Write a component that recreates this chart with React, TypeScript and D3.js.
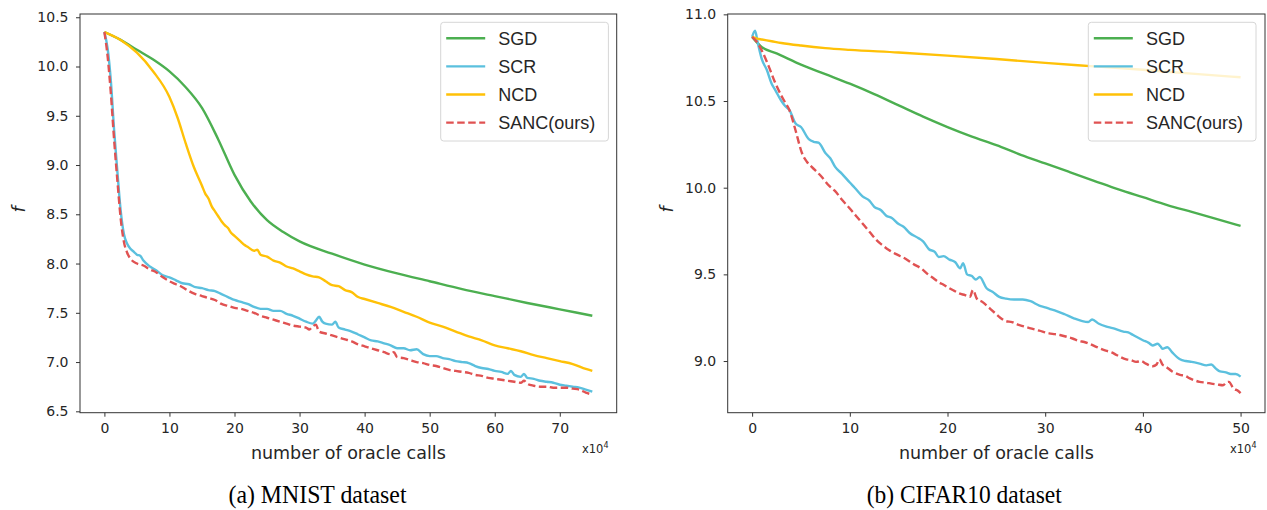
import React, { useEffect, useRef } from "react";
import * as d3 from "d3";

const NAMES = ["SGD", "SCR", "NCD", "SANC(ours)"];
const COLORS = ["#4caf50", "#5bc0de", "#ffc107", "#e05252"];

// MNIST, x in units of 1e4 oracle calls
const MNIST_SGD = [
  [0, 10.35], [2.5, 10.27], [5, 10.17], [7.5, 10.07], [10, 9.95], [12.5, 9.79], [15, 9.58],
  [17.5, 9.26], [20, 8.9], [22.5, 8.63], [25, 8.44], [27.5, 8.32], [30, 8.225], [35, 8.1],
  [40, 7.99], [45, 7.9], [50, 7.82], [55, 7.74], [60, 7.67], [65, 7.6], [70, 7.535], [75, 7.47],
];
const MNIST_SCR = [
  [0, 10.35], [0.5, 10.18], [1, 9.85], [1.5, 9.35], [2, 8.93], [2.5, 8.54], [3, 8.3], [3.5, 8.2],
  [4, 8.15], [4.5, 8.12], [5, 8.09], [5.5, 8.08], [6, 8.03], [7, 7.97], [8, 7.93], [9, 7.88],
  [10, 7.86], [11, 7.83], [12, 7.8], [13, 7.79], [14, 7.76], [15, 7.75], [16, 7.73], [17, 7.72],
  [18, 7.69], [19, 7.66], [20, 7.63], [21, 7.61], [22, 7.59], [23, 7.56], [24, 7.54], [25, 7.54],
  [26, 7.52], [27, 7.52], [28, 7.49], [29, 7.47], [30, 7.44], [31, 7.41], [32, 7.39], [32.5, 7.42],
  [33, 7.46], [33.5, 7.41], [34, 7.39], [35, 7.38], [35.5, 7.41], [36, 7.35], [37, 7.33], [38, 7.31],
  [39, 7.28], [40, 7.25], [41, 7.22], [42, 7.21], [43, 7.19], [44, 7.17], [45, 7.14], [46, 7.14],
  [47, 7.12], [48, 7.13], [49, 7.08], [50, 7.06], [51, 7.06], [52, 7.04], [53, 7.03], [54, 7.01],
  [55, 7.0], [56, 6.99], [57, 6.96], [58, 6.94], [59, 6.93], [60, 6.91], [61, 6.9], [62, 6.88],
  [62.5, 6.91], [63, 6.87], [64, 6.85], [64.5, 6.88], [65, 6.84], [66, 6.83], [67, 6.81], [68, 6.8],
  [69, 6.79], [70, 6.77], [71, 6.76], [72, 6.75], [73, 6.74], [74, 6.72], [75, 6.7],
];
const MNIST_NCD = [
  [0, 10.35], [2.5, 10.27], [5, 10.14], [7.5, 9.95], [10, 9.69], [11.25, 9.48], [12.5, 9.22],
  [13.75, 8.98], [15, 8.79], [15.5, 8.71], [16, 8.66], [16.5, 8.58], [17, 8.53], [17.5, 8.48],
  [18, 8.43], [18.5, 8.39], [19, 8.36], [19.5, 8.31], [20, 8.28], [21, 8.22], [21.5, 8.19],
  [22, 8.17], [23, 8.13], [23.5, 8.14], [24, 8.09], [25, 8.07], [26, 8.03], [27, 8.01], [28, 7.97],
  [29, 7.95], [30, 7.92], [31, 7.89], [32, 7.87], [33, 7.86], [34, 7.82], [35, 7.78], [36, 7.77],
  [37, 7.73], [38, 7.71], [39, 7.66], [40, 7.64], [42, 7.6], [44, 7.56], [46, 7.51], [48, 7.46],
  [50, 7.4], [52, 7.36], [54, 7.31], [56, 7.26], [58, 7.22], [60, 7.17], [62, 7.14], [64, 7.11],
  [66, 7.07], [68, 7.04], [70, 7.01], [72, 6.98], [74, 6.93], [75, 6.91],
];
const MNIST_SANC = [
  [0, 10.35], [0.5, 10.1], [1, 9.72], [1.5, 9.25], [2, 8.84], [2.5, 8.46], [3, 8.22], [3.5, 8.11],
  [4, 8.05], [5, 8.0], [6, 7.98], [7, 7.94], [8, 7.91], [9, 7.86], [10, 7.82], [11, 7.79],
  [12, 7.76], [13, 7.72], [14, 7.69], [15, 7.67], [16, 7.65], [17, 7.63], [18, 7.59], [19, 7.57],
  [20, 7.55], [21, 7.54], [22, 7.52], [23, 7.5], [24, 7.47], [25, 7.45], [26, 7.43], [27, 7.41],
  [28, 7.39], [29, 7.37], [30, 7.36], [31, 7.35], [31.5, 7.33], [32, 7.36], [32.5, 7.38],
  [33, 7.31], [34, 7.29], [35, 7.27], [36, 7.25], [37, 7.23], [38, 7.21], [39, 7.18], [40, 7.16],
  [41, 7.14], [42, 7.12], [43, 7.1], [44, 7.08], [44.5, 7.1], [45, 7.05], [46, 7.04], [47, 7.02],
  [48, 7.0], [49, 6.99], [50, 6.97], [51, 6.96], [52, 6.94], [53, 6.92], [54, 6.91], [55, 6.9],
  [56, 6.89], [57, 6.87], [58, 6.86], [59, 6.84], [60, 6.83], [61, 6.82], [62, 6.81], [63, 6.8],
  [64, 6.79], [64.5, 6.81], [65, 6.78], [66, 6.76], [67, 6.75], [68, 6.75], [69, 6.74], [70, 6.74],
  [71, 6.74], [72, 6.73], [73, 6.72], [74, 6.69], [75, 6.67],
];

// CIFAR10
const CIFAR_SGD = [
  [0, 10.87], [1, 10.81], [2.5, 10.775], [5, 10.71], [7.5, 10.655], [10, 10.6], [12.5, 10.54],
  [15, 10.475], [17.5, 10.41], [20, 10.35], [22.5, 10.295], [25, 10.245], [27.5, 10.19],
  [30, 10.14], [32.5, 10.09], [35, 10.04], [37.5, 9.99], [40, 9.945], [42.5, 9.9], [45, 9.86],
  [47.5, 9.82], [50, 9.78],
];
const CIFAR_SCR = [
  [0, 10.87], [0.3, 10.905], [0.6, 10.83], [1, 10.74], [1.5, 10.68], [2, 10.6], [2.4, 10.56],
  [3, 10.5], [3.4, 10.47], [3.8, 10.45], [4.45, 10.37], [5, 10.35], [5.8, 10.28], [6.3, 10.265],
  [6.8, 10.26], [7.5, 10.2], [8, 10.17], [8.5, 10.12], [9.2, 10.08], [10, 10.03], [10.5, 10.0],
  [11.3, 9.95], [12, 9.925], [12.5, 9.89], [13.2, 9.87], [13.7, 9.84], [14.3, 9.825], [15, 9.79],
  [15.5, 9.775], [16.1, 9.74], [17, 9.71], [17.5, 9.69], [18.1, 9.645], [18.7, 9.63], [19.1, 9.6],
  [19.6, 9.605], [20.2, 9.585], [20.8, 9.57], [21.3, 9.535], [21.6, 9.565], [22, 9.5], [22.5, 9.49],
  [22.9, 9.47], [23.3, 9.485], [24, 9.42], [24.6, 9.4], [25.3, 9.37], [26, 9.36], [26.8, 9.355],
  [27.7, 9.355], [28.5, 9.345], [29.4, 9.32], [30, 9.31], [30.5, 9.3], [31.1, 9.29], [32, 9.27],
  [33, 9.245], [33.8, 9.23], [34.4, 9.225], [34.8, 9.24], [35.5, 9.215], [36.2, 9.2], [36.9, 9.19],
  [38, 9.17], [38.5, 9.165], [39, 9.15], [40, 9.12], [40.6, 9.105], [41, 9.09], [41.5, 9.1],
  [41.8, 9.085], [42, 9.07], [42.5, 9.08], [43, 9.05], [43.8, 9.01], [44.4, 9.0], [45, 8.995],
  [45.8, 8.985], [46.5, 8.975], [47, 8.98], [47.5, 8.955], [47.9, 8.94], [48.5, 8.935],
  [49, 8.925], [49.5, 8.925], [50, 8.91],
];
const CIFAR_NCD = [
  [0, 10.87], [0.5, 10.86], [1, 10.855], [2, 10.845], [3, 10.835], [5, 10.82], [7.5, 10.805],
  [10, 10.795], [15, 10.78], [20, 10.762], [25, 10.742], [30, 10.72], [35, 10.7], [40, 10.68],
  [45, 10.658], [50, 10.637],
];
const CIFAR_SANC = [
  [0, 10.87], [0.5, 10.84], [1, 10.79], [1.7, 10.7], [2.4, 10.6], [3, 10.53], [3.4, 10.49],
  [3.8, 10.45], [4.45, 10.33], [5.1, 10.2], [5.6, 10.15], [6.1, 10.12], [7, 10.07], [7.9, 10.01],
  [8.5, 9.98], [9.2, 9.93], [10, 9.88], [10.6, 9.84], [11.5, 9.78], [12.1, 9.74], [12.7, 9.7],
  [13.3, 9.67], [14, 9.64], [14.8, 9.615], [15.7, 9.59], [16.5, 9.56], [17.4, 9.53], [18, 9.5],
  [18.5, 9.48], [19.1, 9.455], [19.6, 9.44], [20.2, 9.42], [20.7, 9.405], [21.2, 9.39],
  [21.8, 9.38], [22.3, 9.37], [22.6, 9.41], [23, 9.36], [23.6, 9.34], [24.2, 9.31], [24.8, 9.28],
  [25.4, 9.25], [26, 9.23], [26.6, 9.225], [27.2, 9.21], [27.8, 9.2], [28.4, 9.19], [29.4, 9.175],
  [30.4, 9.16], [31, 9.155], [31.5, 9.15], [32.2, 9.14], [32.8, 9.13], [33.5, 9.115], [34, 9.11],
  [34.5, 9.1], [35.3, 9.08], [36.2, 9.06], [36.8, 9.05], [37.3, 9.035], [38.3, 9.01],
  [38.8, 9.005], [39.3, 8.995], [39.8, 9.0], [40.3, 8.985], [41, 8.97], [41.4, 8.98], [41.7, 9.01],
  [42, 8.98], [42.3, 8.97], [43, 8.94], [43.8, 8.92], [44.3, 8.915], [44.8, 8.9], [45.8, 8.88],
  [46.5, 8.875], [47, 8.87], [47.6, 8.865], [48.2, 8.86], [48.5, 8.875], [48.8, 8.88],
  [49.3, 8.84], [49.7, 8.83], [50, 8.815],
];

const MNIST_XTICKS = [0, 10, 20, 30, 40, 50, 60, 70];
const MNIST_YTICKS = [6.5, 7.0, 7.5, 8.0, 8.5, 9.0, 9.5, 10.0, 10.5];
const CIFAR_XTICKS = [0, 10, 20, 30, 40, 50];
const CIFAR_YTICKS = [9.0, 9.5, 10.0, 10.5, 11.0];

const TICK_FONT = "'DejaVu Sans', sans-serif";
const INK = "#262626";

type Cfg = {
  id: string;
  box: { l: number; r: number; t: number; b: number };
  xDom: number[];
  yDom: number[];
  xTicks: number[];
  yTicks: number[];
  series: number[][][];
  legendX: number;
  caption: string;
  capX: number;
  capW: number;
  expoX: number;
};

function Panel({ cfg }: { cfg: Cfg }) {
  const ref = useRef<SVGGElement>(null);
  useEffect(() => {
    const node = ref.current;
    if (!node) return;
    const g = d3.select(node);
    g.selectAll("*").remove();
    const { l, r, t, b } = cfg.box;
    const x = d3.scaleLinear().domain(cfg.xDom).range([l, r]);
    const y = d3.scaleLinear().domain(cfg.yDom).range([b, t]);

    g.append("clipPath").attr("id", `clip-${cfg.id}`)
      .append("rect").attr("x", l).attr("y", t).attr("width", r - l).attr("height", b - t);

    const line = d3.line<number[]>().x((d) => x(d[0])).y((d) => y(d[1])).curve(d3.curveMonotoneX);
    const lines = g.append("g").attr("clip-path", `url(#clip-${cfg.id})`);
    cfg.series.forEach((s, i) => {
      lines.append("path").datum(s)
        .attr("d", line)
        .attr("fill", "none")
        .attr("stroke", COLORS[i])
        .attr("stroke-width", 2.4)
        .attr("stroke-linejoin", "round")
        .attr("stroke-dasharray", i === 3 ? "7.5,3.5" : null);
    });

    // axes
    const xa = g.append("g").attr("transform", `translate(0,${b})`)
      .call(d3.axisBottom(x).tickValues(cfg.xTicks).tickSize(4).tickPadding(6).tickFormat(d3.format("d")));
    const ya = g.append("g").attr("transform", `translate(${l},0)`)
      .call(d3.axisLeft(y).tickValues(cfg.yTicks).tickSize(4).tickPadding(7.5).tickFormat(d3.format(".1f")));
    [xa, ya].forEach((a) => {
      a.select(".domain").remove();
      a.selectAll("line").attr("stroke", "#333").attr("stroke-width", 1);
      a.selectAll("text").attr("font-family", TICK_FONT).attr("font-size", 14).attr("fill", INK);
    });

    g.append("rect").attr("x", l).attr("y", t).attr("width", r - l).attr("height", b - t)
      .attr("fill", "none").attr("stroke", "#333").attr("stroke-width", 1);

    // legend
    const lx = cfg.legendX, ly = 22.3;
    const leg = g.append("g");
    leg.append("rect").attr("x", lx).attr("y", ly).attr("width", 167.7).attr("height", 118.7)
      .attr("rx", 3).attr("fill", "#fff").attr("fill-opacity", 0.8)
      .attr("stroke", "#d6d6d6").attr("stroke-width", 1);
    NAMES.forEach((name, i) => {
      const yy = ly + 16 + i * 28.1;
      leg.append("line").attr("x1", lx + 5.5).attr("x2", lx + 44.5).attr("y1", yy).attr("y2", yy)
        .attr("stroke", COLORS[i]).attr("stroke-width", 2.4)
        .attr("stroke-dasharray", i === 3 ? "7.5,3.5" : null);
      leg.append("text").attr("x", lx + 57.6).attr("y", yy).attr("dy", "0.36em")
        .attr("font-family", "'Liberation Sans', Arial, sans-serif").attr("font-size", 18)
        .attr("fill", INK).text(name);
    });

    // labels
    const cx = (l + r) / 2;
    g.append("text").attr("x", cx).attr("y", 459).attr("text-anchor", "middle")
      .attr("font-family", TICK_FONT).attr("font-size", 17.5).attr("fill", INK)
      .text("number of oracle calls");
    const ex = g.append("text").attr("x", cfg.expoX).attr("y", 453)
      .attr("font-family", TICK_FONT).attr("font-size", 11.5).attr("fill", INK);
    ex.append("tspan").text("x10");
    ex.append("tspan").attr("dy", -5).attr("font-size", 8).text("4");
    g.append("text").attr("transform", `translate(${l - 55},${(t + b) / 2 - 4}) rotate(-90)`)
      .attr("text-anchor", "middle").attr("font-family", TICK_FONT).attr("font-style", "italic")
      .attr("font-size", 17.5).attr("fill", INK).text("f");
    g.append("text").attr("x", cfg.capX).attr("y", 503)
      .attr("textLength", cfg.capW).attr("lengthAdjust", "spacingAndGlyphs")
      .attr("font-family", "'Liberation Serif', 'Times New Roman', serif").attr("font-size", 25)
      .attr("fill", "#000").text(cfg.caption);
  }, [cfg]);
  return <g ref={ref} />;
}

const PANELS: Cfg[] = [
  {
    id: "mnist",
    box: { l: 80, r: 616.7, t: 14, b: 412.7 },
    xDom: [-3.75, 78.75],
    yDom: [6.486, 10.533],
    xTicks: MNIST_XTICKS,
    yTicks: MNIST_YTICKS,
    series: [MNIST_SGD, MNIST_SCR, MNIST_NCD, MNIST_SANC],
    legendX: 440.7,
    caption: "(a) MNIST dataset",
    capX: 228.5,
    capW: 178,
    expoX: 582,
  },
  {
    id: "cifar",
    box: { l: 727.7, r: 1265, t: 14, b: 412.7 },
    xDom: [-2.5, 52.5],
    yDom: [8.702, 11.002],
    xTicks: CIFAR_XTICKS,
    yTicks: CIFAR_YTICKS,
    series: [CIFAR_SGD, CIFAR_SCR, CIFAR_NCD, CIFAR_SANC],
    legendX: 1088.3,
    caption: "(b) CIFAR10 dataset",
    capX: 866.7,
    capW: 195,
    expoX: 1230,
  },
];

export default function App() {
  return (
    <svg width={1267} height={510} style={{ position: "absolute", left: 0, top: 0, background: "#fff" }}>
      <rect width={1267} height={510} fill="#fff" />
      {PANELS.map((p) => <Panel key={p.id} cfg={p} />)}
    </svg>
  );
}
